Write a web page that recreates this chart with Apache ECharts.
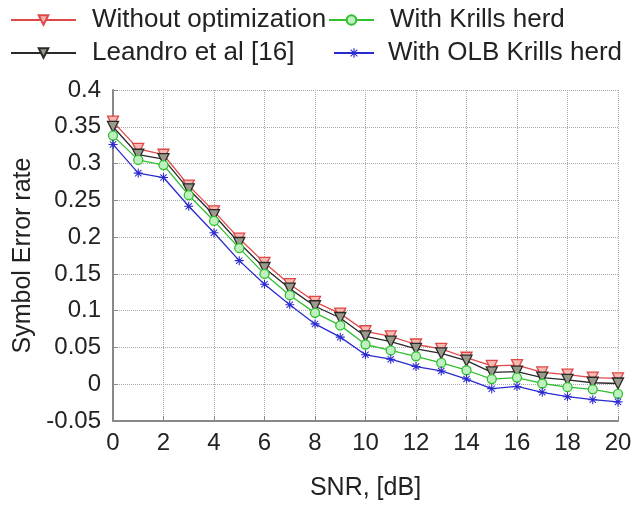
<!DOCTYPE html>
<html>
<head>
<meta charset="utf-8">
<script src="https://cdn.jsdelivr.net/npm/echarts@6/dist/echarts.min.js"></script>
<style>
html,body{margin:0;padding:0;background:#fff;}
#chart{width:640px;height:506px;}
</style>
</head>
<body>
<div id="chart"></div>
<script>
const snr = [0,1,2,3,4,5,6,7,8,9,10,11,12,13,14,15,16,17,18,19,20];
const withoutOpt = [0.357,0.320,0.312,0.270,0.235,0.198,0.165,0.136,0.112,0.096,0.072,0.065,0.054,0.048,0.036,0.025,0.026,0.016,0.013,0.009,0.008];
const leandro    = [0.350,0.312,0.306,0.265,0.230,0.192,0.158,0.130,0.106,0.090,0.065,0.058,0.048,0.042,0.032,0.016,0.017,0.009,0.006,0.002,0.001];
const krills     = [0.338,0.305,0.298,0.257,0.222,0.185,0.150,0.121,0.097,0.080,0.054,0.046,0.038,0.029,0.019,0.007,0.009,0.001,-0.004,-0.007,-0.013];
const olbKrills  = [0.326,0.287,0.281,0.242,0.206,0.168,0.136,0.108,0.082,0.064,0.040,0.034,0.024,0.018,0.007,-0.006,-0.003,-0.011,-0.017,-0.021,-0.024];
const yTicks = {min:-0.05, max:0.4, step:0.05};
const xTicks = {min:0, max:20, step:2};

const FONT = 'Liberation Sans';
const asterisk = 'path://M-0.6,-5 L0.6,-5 L0.6,5 L-0.6,5 Z M-5,-0.6 L5,-0.6 L5,0.6 L-5,0.6 Z M-3.9,-3.1 L-3.1,-3.9 L3.9,3.1 L3.1,3.9 Z M3.1,-3.9 L3.9,-3.1 L-3.1,3.9 L-3.9,3.1 Z';

function pairs(ys){ return snr.map((x,i)=>[x, ys[i]]); }

function mk(name, ys, color, fill, symbol, rot, size){
  return {
    name, type:'line', data:pairs(ys),
    symbol, symbolRotate:rot, symbolSize:size,
    showAllSymbol:true,
    lineStyle:{color, width:1.3},
    itemStyle: fill ? {color:fill, borderColor:color, borderWidth:1.3} : {color, borderColor:color, borderWidth:0},
    emphasis:{disabled:true},
    animation:false
  };
}

function leg(name, left, top, w, gap){
  return {data:[name], left, top, itemWidth:w, itemHeight:12, padding:0,
    selectedMode:false,
    textStyle:{fontFamily:FONT, fontSize:26, color:'#222', padding:[0,0,0,gap-5]}};
}

const chart = echarts.init(document.getElementById('chart'), null, {renderer:'canvas'});
chart.setOption({
  backgroundColor:'#fff',
  animation:false,
  legend:[
    leg('Without optimization', 10, 7, 65, 16),
    leg('With Krills herd', 328, 7, 45, 16),
    leg('Leandro et al [16]', 10, 40, 65, 16),
    leg('With OLB Krills herd', 333, 40, 40, 14)
  ],
  grid:{left:113, right:22, top:90, bottom:80, show:false},
  xAxis:{
    type:'value', min:xTicks.min, max:xTicks.max, interval:xTicks.step,
    name:'SNR, [dB]', nameLocation:'middle', nameGap:55,
    nameTextStyle:{fontFamily:FONT, fontSize:25, color:'#222'},
    axisLine:{show:true, onZero:false, lineStyle:{color:'#888', width:2}},
    axisTick:{show:true, inside:true, length:5, lineStyle:{color:'#888'}},
    axisLabel:{fontFamily:FONT, fontSize:24, color:'#222', margin:10},
    splitLine:{show:true, lineStyle:{type:'dotted', color:'#aaa', width:1}}
  },
  yAxis:{
    type:'value', min:yTicks.min, max:yTicks.max, interval:yTicks.step,
    name:'Symbol Error rate', nameLocation:'middle', nameGap:73, nameRotate:90,
    nameTextStyle:{fontFamily:FONT, fontSize:25, color:'#222'},
    axisLine:{show:true, onZero:false, lineStyle:{color:'#888', width:2}},
    axisTick:{show:true, inside:true, length:5, lineStyle:{color:'#888'}},
    axisLabel:{fontFamily:FONT, fontSize:24, color:'#222', margin:12,
      formatter:v=>String(Math.round(v*100)/100)},
    splitLine:{show:true, lineStyle:{type:'dotted', color:'#aaa', width:1}}
  },
  series:[
    mk('Without optimization', withoutOpt, '#e04848', '#f6b8b0', 'triangle', 180, 11),
    mk('Leandro et al [16]', leandro, '#2a2a2a', '#9a9a8a', 'triangle', 180, 11),
    mk('With Krills herd', krills, '#30c030', '#c0f0c0', 'circle', 0, 9),
    mk('With OLB Krills herd', olbKrills, '#2a2ad0', null, asterisk, 0, 9)
  ]
});
</script>
</body>
</html>
